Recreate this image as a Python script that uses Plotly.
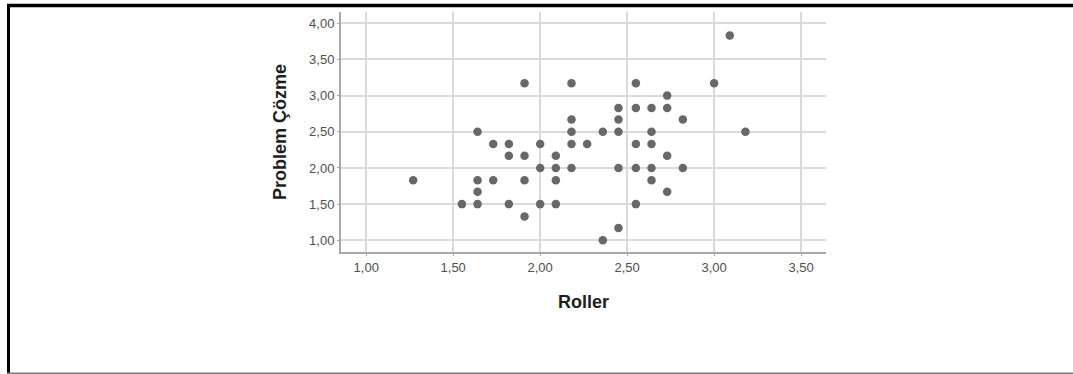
import plotly.graph_objects as go

roller = [1.27, 1.55, 1.64, 1.64, 1.64, 1.64, 1.73, 1.73, 1.82, 1.82, 1.82,
          1.91, 1.91, 1.91, 1.91, 2.00, 2.00, 2.00, 2.09, 2.09, 2.09, 2.09,
          2.18, 2.18, 2.18, 2.18, 2.18, 2.27, 2.36, 2.36,
          2.45, 2.45, 2.45, 2.45, 2.45, 2.55, 2.55, 2.55, 2.55, 2.55,
          2.64, 2.64, 2.64, 2.64, 2.64, 2.73, 2.73, 2.73, 2.73,
          2.82, 2.82, 3.00, 3.09, 3.18]
problem_cozme = [1.83, 1.50, 2.50, 1.83, 1.67, 1.50, 2.33, 1.83, 2.33, 2.17, 1.50,
                 3.17, 2.17, 1.83, 1.33, 2.33, 2.00, 1.50, 2.17, 2.00, 1.83, 1.50,
                 3.17, 2.67, 2.50, 2.33, 2.00, 2.33, 2.50, 1.00,
                 2.83, 2.67, 2.50, 2.00, 1.17, 3.17, 2.83, 2.33, 2.00, 1.50,
                 2.83, 2.50, 2.33, 2.00, 1.83, 3.00, 2.83, 2.17, 1.67,
                 2.67, 2.00, 3.17, 3.83, 2.50]
tick_vals = [1.0, 1.5, 2.0, 2.5, 3.0, 3.5, 4.0]

W, H = 1073, 374
L, R, T, B = 341, 247, 12, 122
pw, ph = W - L - R, H - T - B

def px(x):
    return (x - L) / pw

def py(y):
    return (H - B - y) / ph

fig = go.Figure(go.Scatter(
    x=roller, y=problem_cozme, mode="markers",
    marker=dict(size=8.5, color="#686868", line=dict(width=0)),
    hoverinfo="x+y",
))

axis_common = dict(
    showgrid=True, gridcolor="#dadada", gridwidth=1.5,
    showline=True, linecolor="#a9a9a9", linewidth=2,
    ticks="outside", ticklen=2, tickcolor="#a9a9a9",
    tickformat=".2f", tickvals=tick_vals,
    tickfont=dict(family="Liberation Sans, Arial", size=13, color="#505050"),
    zeroline=False, fixedrange=True,
)

fig.update_layout(
    width=W, height=H,
    margin=dict(l=L, r=R, t=T, b=B, pad=0),
    paper_bgcolor="white", plot_bgcolor="white",
    separators=",.",
    showlegend=False,
    xaxis=dict(range=[0.855, 3.643], **axis_common,
               title=dict(text="<b>Roller</b>", standoff=22,
                          font=dict(family="Liberation Sans, Arial", size=18, color="#1e1e1e"))),
    yaxis=dict(range=[0.838, 4.156], **axis_common,
               title=dict(text="<b>Problem Çözme</b>", standoff=18,
                          font=dict(family="Liberation Sans, Arial", size=18, color="#1e1e1e"))),
    shapes=[
        dict(type="line", xref="paper", yref="paper", x0=px(7), x1=px(1073), y0=py(5.5), y1=py(5.5),
             line=dict(color="black", width=3.5)),
        dict(type="line", xref="paper", yref="paper", x0=px(8.5), x1=px(8.5), y0=py(4), y1=py(374),
             line=dict(color="black", width=3)),
        dict(type="line", xref="paper", yref="paper", x0=px(7), x1=px(1073), y0=py(373.3), y1=py(373.3),
             line=dict(color="#7a7a7a", width=1.5)),
    ],
)

fig.write_html("out.html", config={"displayModeBar": False},
               post_script="document.body.style.margin='0';")
